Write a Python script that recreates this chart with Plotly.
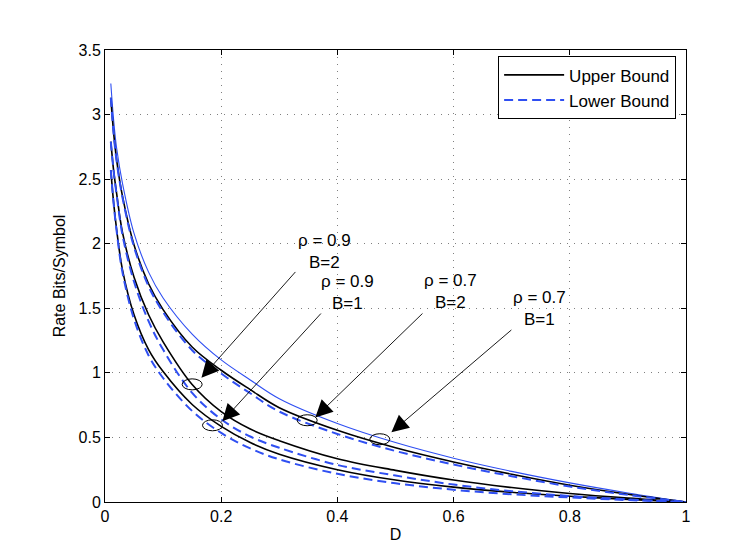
import plotly.graph_objects as go

# Distortion grid
D = [0.01, 0.015, 0.02, 0.03, 0.05, 0.075, 0.1, 0.15, 0.2, 0.25, 0.3, 0.4, 0.5, 0.6, 0.7, 0.8, 0.9, 1.0]

# thin blue reference curve (top)
rate_ref = [3.24, 2.95, 2.74, 2.47, 2.08, 1.78, 1.58, 1.30, 1.10, 0.945, 0.80, 0.608, 0.46, 0.339, 0.237, 0.148, 0.07, 0.0]
# rho = 0.7 (B=1 and B=2 almost coincide)
upper_r07 = [3.13, 2.85, 2.65, 2.37, 1.99, 1.69, 1.49, 1.20, 1.02, 0.87, 0.73, 0.555, 0.42, 0.31, 0.215, 0.13, 0.06, 0.0]
lower_r07 = [3.13, 2.845, 2.64, 2.36, 1.975, 1.67, 1.47, 1.175, 0.995, 0.842, 0.70, 0.527, 0.395, 0.29, 0.20, 0.12, 0.055, 0.0]
# rho = 0.9, B = 2
upper_r09_b2 = [2.79, 2.56, 2.39, 2.09, 1.74, 1.45, 1.24, 0.91, 0.70, 0.565, 0.475, 0.335, 0.245, 0.17, 0.112, 0.066, 0.03, 0.0]
lower_r09_b2 = [2.79, 2.555, 2.38, 2.07, 1.705, 1.40, 1.18, 0.845, 0.64, 0.507, 0.42, 0.287, 0.205, 0.135, 0.084, 0.046, 0.02, 0.0]
# rho = 0.9, B = 1
upper_r09_b1 = [2.57, 2.31, 2.11, 1.80, 1.45, 1.18, 1.01, 0.755, 0.585, 0.46, 0.37, 0.25, 0.17, 0.115, 0.075, 0.045, 0.02, 0.0]
lower_r09_b1 = [2.57, 2.305, 2.10, 1.78, 1.415, 1.135, 0.96, 0.705, 0.535, 0.415, 0.33, 0.218, 0.145, 0.095, 0.06, 0.035, 0.015, 0.0]

x_ticks = [0, 0.2, 0.4, 0.6, 0.8, 1]
x_tick_text = ["0", "0.2", "0.4", "0.6", "0.8", "1"]
y_ticks = [0, 0.5, 1, 1.5, 2, 2.5, 3, 3.5]
y_tick_text = ["0", "0.5", "1", "1.5", "2", "2.5", "3", "3.5"]

# annotation labels: (text, x, y)
labels = [
    ("ρ = 0.9<br>B=2", 0.377, 1.94),
    ("ρ = 0.9<br>B=1", 0.418, 1.626),
    ("ρ = 0.7<br>B=2", 0.595, 1.628),
    ("ρ = 0.7<br>B=1", 0.747, 1.497),
]
# arrows: (head_x, head_y, tail_x, tail_y)
arrows = [
    (0.166, 0.962, 0.330, 1.793),
    (0.202, 0.625, 0.374, 1.471),
    (0.362, 0.655, 0.549, 1.471),
    (0.493, 0.540, 0.702, 1.342),
]
# ellipse centres
ellipses = [(0.150, 0.911), (0.185, 0.594), (0.348, 0.633), (0.473, 0.486)]

BLUE = "#2f4ff2"
FONT = "Liberation Sans"

fig = go.Figure()

upper_sets = [upper_r07, upper_r09_b2, upper_r09_b1]
lower_sets = [lower_r07, lower_r09_b2, lower_r09_b1]

fig.add_trace(go.Scatter(x=D, y=rate_ref, mode="lines", line=dict(color=BLUE, width=1.1, shape="spline"),
                         showlegend=False, hoverinfo="skip"))
for i, ys in enumerate(upper_sets):
    fig.add_trace(go.Scatter(x=D, y=ys, mode="lines", name="Upper Bound",
                             line=dict(color="black", width=1.6, shape="spline"),
                             showlegend=(i == 0), legendgroup="up"))
for i, ys in enumerate(lower_sets):
    fig.add_trace(go.Scatter(x=D, y=ys, mode="lines", name="Lower Bound",
                             line=dict(color=BLUE, width=2, dash="9px,5px", shape="spline"),
                             showlegend=(i == 0), legendgroup="low"))

annotations = []
for txt, x, y in labels:
    annotations.append(dict(x=x, y=y, xref="x", yref="y", text=txt, showarrow=False,
                            font=dict(family=FONT, size=17, color="black"), align="center"))
for hx, hy, tx, ty in arrows:
    annotations.append(dict(x=hx, y=hy, ax=tx, ay=ty, xref="x", yref="y", axref="x", ayref="y",
                            text="", showarrow=True, arrowhead=2, arrowsize=3.8, arrowwidth=0.9,
                            arrowcolor="black"))

shapes = []
for cx, cy in ellipses:
    shapes.append(dict(type="circle", xref="x", yref="y", xsizemode="pixel", ysizemode="pixel",
                       xanchor=cx, yanchor=cy, x0=-10, x1=10, y0=-5.5, y1=5.5,
                       line=dict(color="black", width=1)))

axis_common = dict(showline=True, linecolor="black", linewidth=1, mirror="ticks",
                   ticks="inside", ticklen=5, tickcolor="black", showgrid=True,
                   gridcolor="#7f7f7f", griddash="1px,6px", gridwidth=1, zeroline=False,
                   tickfont=dict(family=FONT, size=16, color="black"))

fig.update_layout(
    width=747, height=555, autosize=False,
    margin=dict(l=97, r=69, t=42, b=61),
    paper_bgcolor="white", plot_bgcolor="white",
    xaxis=dict(range=[0, 1], tickvals=x_ticks, ticktext=x_tick_text,
               title=dict(text="D", font=dict(family=FONT, size=16, color="black"), standoff=4),
               **axis_common),
    yaxis=dict(range=[0, 3.5], tickvals=y_ticks, ticktext=y_tick_text,
               title=dict(text="Rate Bits/Symbol", font=dict(family=FONT, size=16, color="black"), standoff=8),
               **axis_common),
    legend=dict(x=0.983, y=0.986, xanchor="right", yanchor="top", bgcolor="white",
                bordercolor="black", borderwidth=1, font=dict(family=FONT, size=17, color="black"),
                tracegroupgap=0, itemwidth=60),
    annotations=annotations, shapes=shapes,
    showlegend=True,
)

fig.write_html("out.html")
